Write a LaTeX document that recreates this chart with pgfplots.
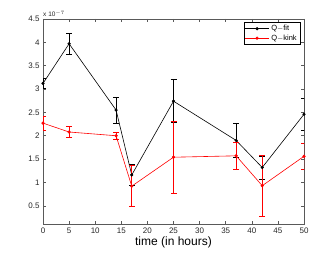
\documentclass[border=0pt]{standalone}
\usepackage{fontspec}
\setmainfont{Liberation Sans}
\usepackage{pgfplots}
\pgfplotsset{compat=1.18}
\begin{document}
\begin{tikzpicture}
\begin{axis}[
  scale only axis,
  width=261pt, height=205pt,
  xmin=0, xmax=50, ymin=0.11, ymax=4.5,
  xtick={0,5,...,50},
  ytick={0.5,1,...,4.5},
  yticklabels={0.5,1,1.5,2,2.5,3,3.5,4,4.5},
  tick align=inside,
  major tick length=3pt,
  axis line style={draw=black!65, line width=0.6pt},
  every tick/.style={black!65, line width=0.5pt},
  tick label style={font=\fontsize{8}{9}\selectfont, text=black!85},
  /pgf/number format/assume math mode=true,
  xlabel={time (in hours)},
  xlabel style={font=\fontsize{12}{13}\selectfont, yshift=3pt},
  legend style={at={(rel axis cs:1,1)}, anchor=north east, xshift=-4pt, yshift=-3pt,
    font=\fontsize{7.5}{8}\selectfont, draw=black, line width=0.5pt,
    inner sep=1pt, row sep=-1.5pt, cells={anchor=west}},
  legend image code/.code={\draw[mark repeat=2,mark phase=2,#1] plot coordinates {(0cm,0cm) (0.42cm,0cm) (0.84cm,0cm)};},
]
\addplot[black, line width=0.6pt, mark=*, mark size=1.3pt,
  error bars/.cd, y dir=both, y explicit,
  error bar style={line width=0.6pt},
  error mark options={rotate=90, mark size=3pt, line width=0.6pt}]
  coordinates {
  (0,3.12) +- (0,0.10)
  (5,3.97) +- (0,0.22)
  (14,2.55) +- (0,0.28)
  (17,1.16) +- (0,0.22)
  (25,2.74) +- (0,0.46)
  (37,1.90) +- (0,0.36)
  (42,1.32) +- (0,0.25)
  (50,2.46) +- (0,0.35)
};
\addlegendentry{Q$-$fit}
\addplot[red, line width=0.6pt, mark=*, mark size=1.3pt,
  error bars/.cd, y dir=both, y explicit,
  error bar style={line width=0.6pt},
  error mark options={rotate=90, mark size=3pt, line width=0.6pt}]
  coordinates {
  (0,2.27) +- (0,0.15)
  (5,2.08) +- (0,0.12)
  (14,2.00) +- (0,0.08)
  (17,0.92) +- (0,0.44)
  (25,1.54) +- (0,0.77)
  (37,1.57) +- (0,0.28)
  (42,0.93) +- (0,0.65)
  (50,1.56) +- (0,0.28)
};
\addlegendentry{Q$-$kink}
\coordinate (bl) at (rel axis cs:0,0);
\coordinate (tl) at (rel axis cs:0,1);
\end{axis}
\node[anchor=south west, font=\fontsize{6.5}{7}\selectfont, text=black!85, inner sep=0pt] at ([yshift=2pt]tl) {x 10$^{-7}$};
\path (bl) ++(-43pt,-29pt) rectangle ++(336pt,253pt);
\end{tikzpicture}
\end{document}
